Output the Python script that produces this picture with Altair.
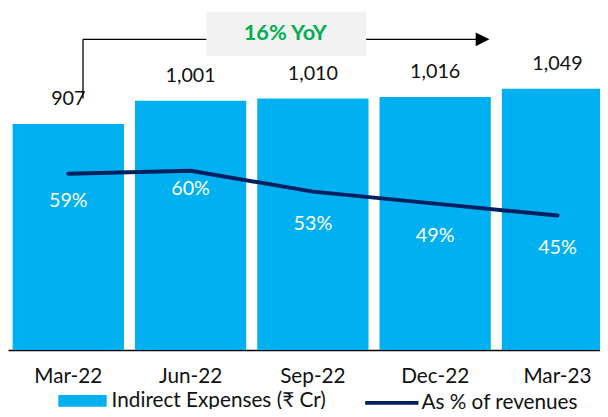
import altair as alt
import pandas as pd

# ---- data -------------------------------------------------------------
months = ["Mar-22", "Jun-22", "Sep-22", "Dec-22", "Mar-23"]
expenses = [907, 1001, 1010, 1016, 1049]          # Indirect Expenses (₹ Cr)
pct_rev = [59, 60, 53, 49, 45]                    # As % of revenues
bar_series = "Indirect Expenses (₹ Cr)"
line_series = "As % of revenues"

yoy = round((expenses[-1] / expenses[0] - 1) * 100)
yoy_text = f"{yoy}% YoY"

df = pd.DataFrame({
    "month": months,
    "exp": expenses,
    "pct": pct_rev,
    "bar_s": bar_series,
    "line_s": line_series,
})
df["exp_label"] = df["exp"].map(lambda v: f"{v:,}")
df["pct_label"] = df["pct"].map(lambda v: f"{v}%")

FONT = "Lato, Noto Sans, DejaVu Sans"
BAR = "#00b0f0"
NAVY = "#002060"
INK = "#111111"

x_enc = alt.X(
    "month:N",
    sort=months,
    scale=alt.Scale(paddingInner=0.09, paddingOuter=0.038),
    axis=alt.Axis(
        title=None, ticks=False, tickSize=0, labelAngle=0, labelFont=FONT,
        labelFontSize=21, labelColor=INK, labelPadding=27,
        labelBaseline="middle", domainColor="#000000", domainWidth=1.5,
        grid=False,
    ),
)
y_bar = alt.Y("exp:Q", scale=alt.Scale(domain=[0, 1200], nice=False), axis=None)
y_pct = alt.Y("pct:Q", scale=alt.Scale(domain=[0, 100], nice=False), axis=None)

base = alt.Chart(df)

bars = base.mark_bar(color=BAR).encode(
    x=x_enc,
    y=y_bar,
    fill=alt.Fill(
        "bar_s:N",
        scale=alt.Scale(domain=[bar_series], range=[BAR]),
        legend=alt.Legend(
            title=None, orient="none", legendX=51, legendY=330, padding=0,
            symbolType="M-1,-0.245H1V0.245H-1Z", symbolSize=2401,
            symbolStrokeWidth=0, labelFont=FONT, labelFontSize=21,
            labelColor=INK, labelOffset=5, labelLimit=400,
        ),
    ),
)

bar_labels = base.mark_text(
    dy=-25, baseline="middle", font=FONT, fontSize=20, color=INK
).encode(x=x_enc, y=y_bar, text="exp_label:N")

line = base.mark_line(strokeWidth=4, strokeCap="round", strokeJoin="round").encode(
    x=x_enc,
    y=y_pct,
    stroke=alt.Stroke(
        "line_s:N",
        scale=alt.Scale(domain=[line_series], range=[NAVY]),
        legend=alt.Legend(
            title=None, orient="none", legendX=360, legendY=327.5, padding=0,
            symbolType="stroke", symbolSize=2916, symbolStrokeWidth=4,
            labelFont=FONT, labelFontSize=21, labelColor=INK,
            labelOffset=1, labelLimit=400,
        ),
    ),
)


def pct_text(dy, flt):
    return base.transform_filter(flt).mark_text(
        dy=dy, baseline="middle", font=FONT, fontSize=20, color="#ffffff"
    ).encode(x=x_enc, y=y_pct, text="pct_label:N")


pct_labels_a = pct_text(28, alt.datum.month == months[0])
pct_labels_b = pct_text(19, alt.datum.month == months[1])
pct_labels_c = pct_text(33, (alt.datum.month != months[0]) & (alt.datum.month != months[1]))

# ---- YoY annotation --------------------------------------------------
ann = alt.Chart(pd.DataFrame({"t": [yoy_text]}))
v_rule = ann.mark_rule(color="#000000", strokeWidth=1.3).encode(
    x=alt.value(76), y=alt.value(-12), y2=alt.value(48))
h_rule = ann.mark_rule(color="#000000", strokeWidth=1.3).encode(
    x=alt.value(76), x2=alt.value(476), y=alt.value(-12))
box = ann.mark_rect(color="#f2f2f2").encode(
    x=alt.value(201), x2=alt.value(363), y=alt.value(-40), y2=alt.value(5))
yoy_label = ann.mark_text(
    font=FONT, fontSize=22, fontWeight="bold", color="#00b050", baseline="middle"
).encode(x=alt.value(281), y=alt.value(-18), text="t:N")
arrow = ann.mark_point(
    shape="M-1,-1L1,0L-1,1Z", filled=True, size=196, color="#000000", opacity=1
).encode(x=alt.value(481), y=alt.value(-12))

# plot area is 618 px wide; the negative right padding trims the canvas to
# 600 px so the last bar runs off the edge as in the reference
chart = alt.layer(
    bars, bar_labels, line, pct_labels_a, pct_labels_b, pct_labels_c,
    v_rule, h_rule, box, yoy_label, arrow
).resolve_scale(
    y="independent"
).properties(
    width=618,
    height=303,
    padding={"left": 0, "top": 41, "right": -18, "bottom": 57},
    autosize=alt.AutoSizeParams(type="none"),
    background="#ffffff",
).configure_view(stroke=None)

chart.save("out.html", embed_options={"renderer": "svg", "actions": False})
